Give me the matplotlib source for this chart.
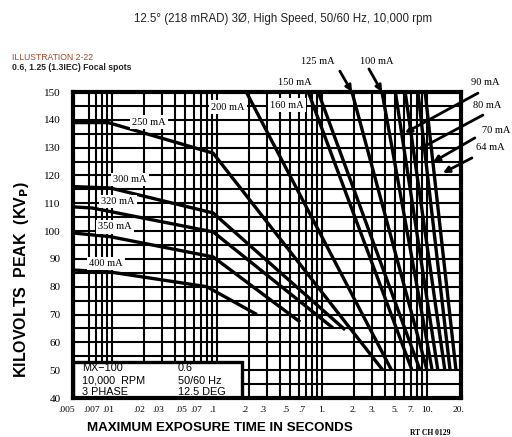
import matplotlib.pyplot as plt
from matplotlib.patches import Rectangle
from matplotlib.transforms import ScaledTranslation

plt.rcParams['font.family'] = ['Liberation Sans', 'DejaVu Sans']
SERIF = 'Liberation Serif'

# grid of the rating chart
kv_grid = list(range(40, 151, 5))
t_grid = [.006, .007, .008, .009, .01,
          .02, .03, .04, .05, .06, .07, .08, .09, .1,
          .2, .3, .4, .5, .6, .7, .8, .9, 1.,
          2., 3., 4., 5., 6., 7., 8., 9., 10.]

x_ticks = [.005, .007, .01, .02, .03, .05, .07, .1, .2, .3, .5, .7, 1, 2, 3, 5, 7, 10, 20]
x_ticklabels = ['.005', '.007', '.01', '.02', '.03', '.05', '.07', '.1', '.2', '.3',
                '.5', '.7', '1.', '2.', '3.', '5.', '7.', '10.', '20.']
y_ticks = list(range(40, 151, 10))

# mA curves (time s, kVp)
t_400 = [0.0043, 0.0096, 0.08, 0.24]
kv_400 = [86, 85.3, 80, 70]
t_350 = [0.0043, 0.0096, 0.092, 0.62]
kv_350 = [99.3, 98, 90.7, 67.3]
t_320 = [0.0043, 0.0065, 0.092, 1.27]
kv_320 = [108.7, 108.3, 99.7, 65.2]
t_300 = [0.0043, 0.0096, 0.092, 1.66]
kv_300 = [116, 115.5, 106.5, 64.5]
t_250 = [0.0043, 0.0092, 0.092, 3.8]
kv_250 = [139, 139, 128, 50]
t_200 = [0.19, 4.6]
kv_200 = [150, 50]
t_160 = [0.74, 7.2]
kv_160 = [150, 50]
t_150 = [0.92, 8.6]
kv_150 = [150, 50]
t_125 = [1.93, 10.0]
kv_125 = [150, 50]
t_100 = [3.73, 11.2]
kv_100 = [150, 50]
t_90 = [5.0, 12.7]
kv_90 = [150, 50]
t_80 = [6.2, 14.8]
kv_80 = [150, 50]
t_70 = [8.2, 16.6]
kv_70 = [150, 50]
t_64 = [9.6, 18.9]
kv_64 = [150, 50]

curves = [(t_400, kv_400), (t_350, kv_350), (t_320, kv_320), (t_300, kv_300),
          (t_250, kv_250), (t_200, kv_200), (t_160, kv_160), (t_150, kv_150),
          (t_125, kv_125), (t_100, kv_100), (t_90, kv_90), (t_80, kv_80),
          (t_70, kv_70), (t_64, kv_64)]

fig = plt.figure(figsize=(5.12, 4.37), dpi=100)
ax = fig.add_axes([73 / 512, 1 - 398 / 437, 388 / 512, 306 / 437])
ax.set_xscale('log')
ax.set_xlim(0.00425, 21.1)
ax.set_ylim(40, 150)

for t in t_grid:
    ax.axvline(t, color='black', lw=1.5, zorder=1)
for kv in kv_grid:
    ax.axhline(kv, color='black', lw=1.5, zorder=1)

for t, kv in curves:
    ax.plot(t, kv, color='black', lw=2.4, solid_capstyle='butt', zorder=3)

lab = dict(ha='center', va='center', fontsize=7.5, family=SERIF, zorder=4)
box = dict(facecolor='white', edgecolor='none', pad=1.5)
ax.text(0.0225, 139.2, '250 mA', bbox=box, **lab)
ax.text(0.0148, 118.4, '300 mA', bbox=box, **lab)
ax.text(0.0114, 110.5, '320 mA', bbox=box, **lab)
ax.text(0.0107, 101.5, '350 mA', bbox=box, **lab)
ax.text(0.0088, 88.2, '400 mA', bbox=box, **lab)
ax.text(0.127, 144.6, '200 mA', bbox=box, **lab)
ax.text(0.464, 145.3, '160 mA', bbox=box, **lab)
ax.text(0.553, 153.4, '150 mA', **lab)
ax.text(0.916, 161.1, '125 mA', **lab)
ax.text(3.34, 161.1, '100 mA', **lab)
ax.text(35.7, 153.4, '90 mA', **lab)
ax.text(37.2, 145.3, '80 mA', **lab)
ax.text(45.2, 136.0, '70 mA', **lab)
ax.text(39.7, 129.9, '64 mA', **lab)

arr = dict(arrowstyle='-|>', lw=2.0, color='black', mutation_scale=9,
           shrinkA=0, shrinkB=0)
for head, tail in [((1.93, 150), (1.48, 157.5)),
                   ((3.73, 150), (2.80, 158.3)),
                   ((6.17, 135.3), (30.6, 149.6)),
                   ((8.21, 129.2), (34.1, 141.7)),
                   ((11.4, 124.8), (28.6, 133.5)),
                   ((14.2, 120.9), (26.8, 126.3))]:
    ax.annotate('', xy=head, xytext=tail, arrowprops=arr,
                annotation_clip=False, zorder=5)

# info box, lower left
ax.add_patch(Rectangle((0, 0), 0.436, 0.118, transform=ax.transAxes,
                       facecolor='white', edgecolor='black', lw=2.4, zorder=6))
info = dict(transform=ax.transAxes, fontsize=7.8, va='center', ha='left', zorder=7)
ax.text(0.023, 0.098, 'MX\u2212100', **info)
ax.text(0.023, 0.056, '10,000  RPM', **info)
ax.text(0.023, 0.018, '3 PHASE', **info)
ax.text(0.27, 0.098, '0.6', **info)
ax.text(0.27, 0.056, '50/60 Hz', **info)
ax.text(0.27, 0.018, '12.5 DEG', **info)

ax.set_xticks(x_ticks)
ax.set_xticklabels(x_ticklabels, family=SERIF, fontsize=6.8)
ax.xaxis.set_minor_locator(plt.NullLocator())
ax.set_yticks(y_ticks)
ax.set_yticklabels([str(v) for v in y_ticks], family=SERIF, fontsize=8)
ax.tick_params(axis='x', length=0, pad=6)
ax.tick_params(axis='y', length=0, pad=9)
for s in ax.spines.values():
    s.set_linewidth(3)
    s.set_zorder(8)

# tick labels sit a little left of their grid lines in the original
for v, lbl in zip(x_ticks, ax.get_xticklabels()):
    dx = -14 if v == .005 else (-4 if v < 1 else 0)
    lbl.set_transform(lbl.get_transform() + ScaledTranslation(dx / 100, 0, fig.dpi_scale_trans))

fig.text(283 / 512, 1 - 19 / 437, '12.5\u00b0 (218 mRAD) 3\u00d8, High Speed, 50/60 Hz, 10,000 rpm',
         ha='center', va='center', fontsize=8.3, color='#222222')
fig.text(12 / 512, 1 - 57 / 437, 'ILLUSTRATION 2-22', ha='left', va='center',
         fontsize=6.2, color='#a0482a')
fig.text(12 / 512, 1 - 67 / 437, '0.6, 1.25 (1.3IEC) Focal spots', ha='left', va='center',
         fontsize=6.2, fontweight='bold', color='#222222')
fig.text(220 / 512, 1 - 428 / 437, 'MAXIMUM EXPOSURE TIME IN SECONDS', ha='center',
         va='center', fontsize=9.6, fontweight='bold')
fig.text(22 / 512, 1 - 280 / 437, r'KILOVOLTS  PEAK  (KV$_\mathbf{P}$)', ha='center',
         va='center', rotation=90, fontsize=11.5, fontweight='bold')
fig.text(430 / 512, 1 - 433 / 437, 'RT CH 0129', ha='center', va='center',
         fontsize=5.5, family=SERIF, fontweight='bold')

fig.savefig('out.png', dpi=100)
